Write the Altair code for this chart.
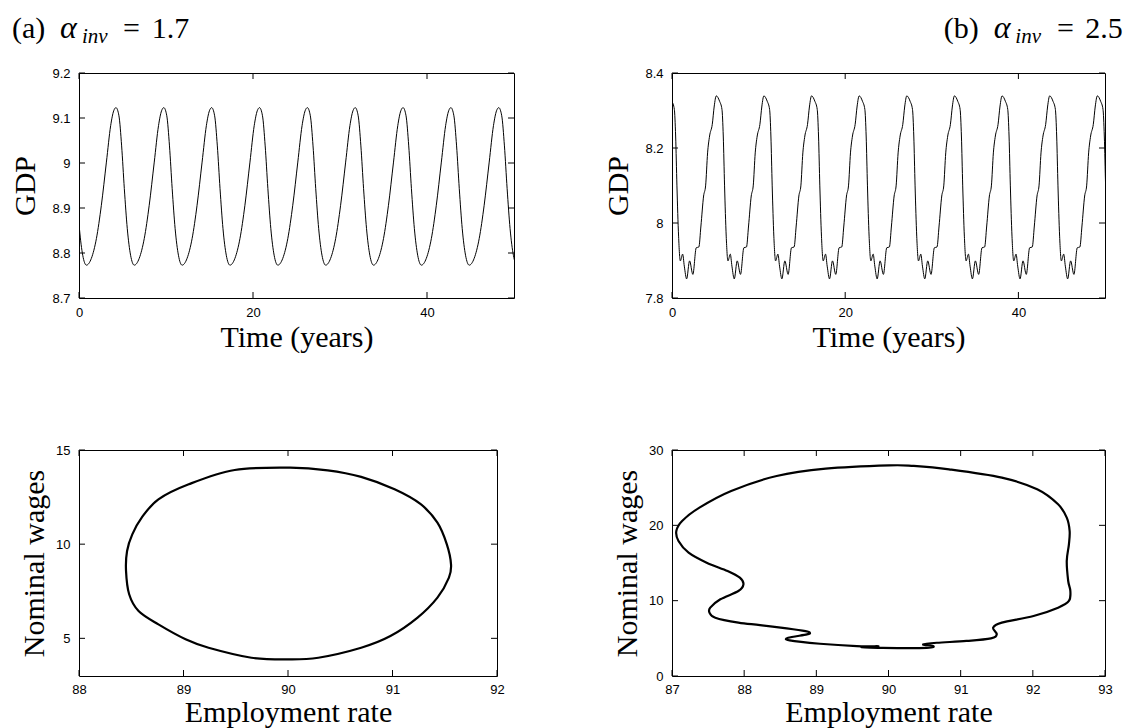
import altair as alt
import pandas as pd

SERIF = "Liberation Serif"
SANS = "Liberation Sans"

# ---------------- data ----------------
# (a) GDP: one period of the limit cycle (years after a trough, GDP) and the trough times
A_CYCLE_T = [0.00, 0.57, 1.15, 1.72, 2.30, 2.79, 3.14, 3.40, 3.74, 4.05, 4.36, 4.70, 5.08]
A_CYCLE_GDP = [8.773, 8.788, 8.832, 8.906, 9.002, 9.083, 9.116, 9.123, 9.105, 9.038, 8.943, 8.854, 8.795]
A_TROUGH_T = [-4.65, 0.85, 6.35, 11.85, 17.35, 22.85, 28.35, 33.85, 39.35, 44.85, 50.35]

# (b) GDP: one period (years after a peak, GDP) and the peak times
B_CYCLE_T = [0.00, 0.38, 0.66, 0.81, 0.96, 1.15, 1.35, 1.62, 1.81, 2.08, 2.42, 2.80,
             3.19, 3.49, 3.73, 4.04, 4.27, 4.50, 4.73, 5.04, 5.27]
B_CYCLE_GDP = [8.339, 8.325, 8.303, 8.232, 8.099, 7.965, 7.899, 7.917, 7.885, 7.851, 7.899, 7.863,
               7.934, 7.936, 7.992, 8.072, 8.099, 8.187, 8.232, 8.263, 8.312]
B_PEAK_T = [-0.39, 5.11, 10.61, 16.11, 21.61, 27.11, 32.61, 38.11, 43.61, 49.11]

# (a) employment rate vs nominal wages (closed orbit)
A_EMP = [90.02, 90.38, 90.70, 91.02, 91.27, 91.43, 91.52, 91.56, 91.54, 91.43, 91.24, 90.98,
         90.70, 90.29, 90.00, 89.65, 89.24, 89.02, 88.76, 88.57, 88.48, 88.45, 88.46, 88.51,
         88.60, 88.76, 89.05, 89.49]
A_WAGE = [14.06, 13.92, 13.57, 12.91, 12.12, 11.14, 9.99, 8.93, 8.22, 7.16, 6.10, 5.12,
          4.50, 3.97, 3.88, 3.97, 4.50, 4.95, 5.74, 6.45, 7.34, 8.58, 9.64, 10.52,
          11.41, 12.38, 13.18, 13.94]

# (b) employment rate vs nominal wages (closed orbit)
B_EMP = [90.01, 89.13, 88.45, 87.82, 87.38, 87.14, 87.06, 87.09, 87.23, 87.48, 87.77, 87.94,
         87.99, 87.92, 87.67, 87.53, 87.52, 87.60, 87.92, 88.22, 88.59, 88.85, 88.91, 88.87,
         88.61, 88.63, 89.05, 89.56, 89.86, 89.62, 89.92, 90.53, 90.62, 90.48, 90.67, 91.08,
         91.42, 91.50, 91.45, 91.57, 92.01, 92.35, 92.50, 92.52, 92.49, 92.47, 92.50, 92.51,
         92.47, 92.35, 92.06, 91.57, 90.84, 90.35]
B_WAGE = [27.96, 27.52, 26.55, 24.56, 22.35, 20.58, 19.25, 17.92, 16.37, 15.04, 13.94, 13.05,
          12.17, 11.28, 10.18, 9.07, 8.41, 7.74, 7.08, 6.76, 6.32, 5.95, 5.74, 5.52,
          5.07, 4.73, 4.28, 3.97, 3.95, 3.86, 3.74, 3.74, 3.98, 4.19, 4.41, 4.65,
          5.00, 5.53, 6.42, 7.08, 7.96, 9.07, 9.96, 11.28, 12.61, 15.27, 17.48, 19.25,
          21.02, 22.79, 24.78, 26.33, 27.43, 27.88]

TIME_TICKS = [0, 20, 40]
A_GDP_TICKS = [8.7, 8.8, 8.9, 9.0, 9.1, 9.2]
B_GDP_TICKS = [7.8, 8.0, 8.2, 8.4]
A_EMP_TICKS = [88, 89, 90, 91, 92]
A_WAGE_TICKS = [5, 10, 15]
B_EMP_TICKS = [87, 88, 89, 90, 91, 92, 93]
B_WAGE_TICKS = [0, 10, 20, 30]

TITLE_A = ["(a)", "α", "inv", "=", "1.7"]
TITLE_B = ["(b)", "α", "inv", "=", "2.5"]

X_TITLE_TOP = "Time (years)"
Y_TITLE_TOP = "GDP"
X_TITLE_BOT = "Employment rate"
Y_TITLE_BOT = "Nominal wages"

LABEL_EXPR = "'' + datum.value"


# ---------------- helpers ----------------
def tile(cycle_t, cycle_v, starts):
    t, v = [], []
    for s in starts:
        for dt, val in zip(cycle_t, cycle_v):
            t.append(round(s + dt, 3))
            v.append(val)
    return pd.DataFrame({"t": t, "gdp": v})


def x_axis(values, title, pad, lpad):
    return alt.Axis(values=values, labelExpr=LABEL_EXPR, title=title, titleFont=SERIF,
                    titleFontSize=30, titleFontWeight="normal", titleColor="black",
                    titleBaseline="alphabetic", titlePadding=pad, labelFont=SANS,
                    labelFontSize=13, labelColor="black", labelPadding=lpad, labelFlush=False,
                    labelOverlap=False, ticks=False, tickSize=0, domain=False, grid=False,
                    minExtent=22, maxExtent=22)


def y_axis(values, title, pad):
    return alt.Axis(values=values, labelExpr=LABEL_EXPR, title=title, titleFont=SERIF,
                    titleFontSize=30, titleFontWeight="normal", titleColor="black",
                    titleBaseline="alphabetic", titleAngle=270, titlePadding=pad,
                    labelFont=SANS, labelFontSize=13, labelColor="black", labelPadding=9,
                    labelOverlap=False, ticks=False, tickSize=0, domain=False, grid=False,
                    minExtent=24, maxExtent=24)


def inner_ticks(xvals, yvals, xs, ys, xa, ya, W, H, L=6):
    dx = pd.DataFrame({"v": xvals})
    dy = pd.DataFrame({"v": yvals})
    bx = alt.Chart(dx).mark_rule(color="black", strokeWidth=1)
    by = alt.Chart(dy).mark_rule(color="black", strokeWidth=1)
    X = alt.X("v:Q", scale=xs, axis=xa)
    Y = alt.Y("v:Q", scale=ys, axis=ya)
    return [
        bx.encode(x=X, y=alt.value(H), y2=alt.value(H - L)),
        bx.encode(x=X, y=alt.value(0), y2=alt.value(L)),
        by.encode(y=Y, x=alt.value(0), x2=alt.value(L)),
        by.encode(y=Y, x=alt.value(W), x2=alt.value(W - L)),
    ]


def title_layers(pieces, xpos, base=-35, sub=-30):
    sizes = [30, 32, 21, 30, 30]
    styles = ["normal", "italic", "italic", "normal", "normal"]
    ys = [base, base, sub, base, base]
    out = []
    for s, x, fs, st, y in zip(pieces, xpos, sizes, styles, ys):
        out.append(
            alt.Chart(pd.DataFrame({"s": [s]}))
            .mark_text(align="left", baseline="alphabetic", font=SERIF, fontSize=fs,
                       fontStyle=st, color="black")
            .encode(x=alt.value(x), y=alt.value(y), text="s:N")
        )
    return out


# ---------------- panels ----------------
def gdp_panel(df, xdom, ydom, yticks, W, H, ypad, titles):
    xs = alt.Scale(domain=xdom, nice=False, zero=False)
    ys = alt.Scale(domain=ydom, nice=False, zero=False)
    xa = x_axis(TIME_TICKS, X_TITLE_TOP, 26, 8)
    ya = y_axis(yticks, Y_TITLE_TOP, ypad)
    line = alt.Chart(df).mark_line(interpolate="monotone", clip=True, color="black",
                                   strokeWidth=1).encode(
        x=alt.X("t:Q", scale=xs, axis=xa),
        y=alt.Y("gdp:Q", scale=ys, axis=ya),
    )
    return alt.layer(line, *inner_ticks(TIME_TICKS, yticks, xs, ys, xa, ya, W, H),
                     *titles).properties(width=W, height=H)


def orbit_panel(emp, wage, xdom, ydom, xticks, yticks, W, H, ypad):
    df = pd.DataFrame({"emp": emp, "wage": wage, "i": list(range(len(emp)))})
    xs = alt.Scale(domain=xdom, nice=False, zero=False)
    ys = alt.Scale(domain=ydom, nice=False, zero=False)
    xa = x_axis(xticks, X_TITLE_BOT, 23, 7)
    ya = y_axis(yticks, Y_TITLE_BOT, ypad)
    line = alt.Chart(df).mark_line(interpolate="cardinal-closed", clip=True, color="black",
                                   strokeWidth=2.2).encode(
        x=alt.X("emp:Q", scale=xs, axis=xa),
        y=alt.Y("wage:Q", scale=ys, axis=ya),
        order=alt.Order("i:Q"),
    )
    return alt.layer(line, *inner_ticks(xticks, yticks, xs, ys, xa, ya, W, H)).properties(
        width=W, height=H)


tl = gdp_panel(tile(A_CYCLE_T, A_CYCLE_GDP, A_TROUGH_T), [0, 50], [8.7, 9.2], A_GDP_TICKS,
               435, 225, 21, title_layers(TITLE_A, [-67, -19, 3, 44, 72.7]))
tr = gdp_panel(tile(B_CYCLE_T, B_CYCLE_GDP, B_PEAK_T), [0, 50], [7.8, 8.4], B_GDP_TICKS,
               433, 225, 21, title_layers(TITLE_B, [271.7, 321.7, 343.3, 385, 413.3]))
bl = orbit_panel(A_EMP, A_WAGE, [88, 92], [3, 15], A_EMP_TICKS, A_WAGE_TICKS, 418, 226, 12)
br = orbit_panel(B_EMP, B_WAGE, [87, 93], [0, 30], B_EMP_TICKS, B_WAGE_TICKS, 433, 226, 12)

chart = alt.concat(tl, tr, bl, br, columns=2, spacing={"row": 152, "column": 158},
                   align="each", bounds="flush").properties(
    padding={"left": 1, "top": 3, "right": 0, "bottom": 0},
    background="white",
).configure_view(stroke="black", strokeWidth=1)

chart.save("out.html", embed_options={"renderer": "svg", "actions": False})
